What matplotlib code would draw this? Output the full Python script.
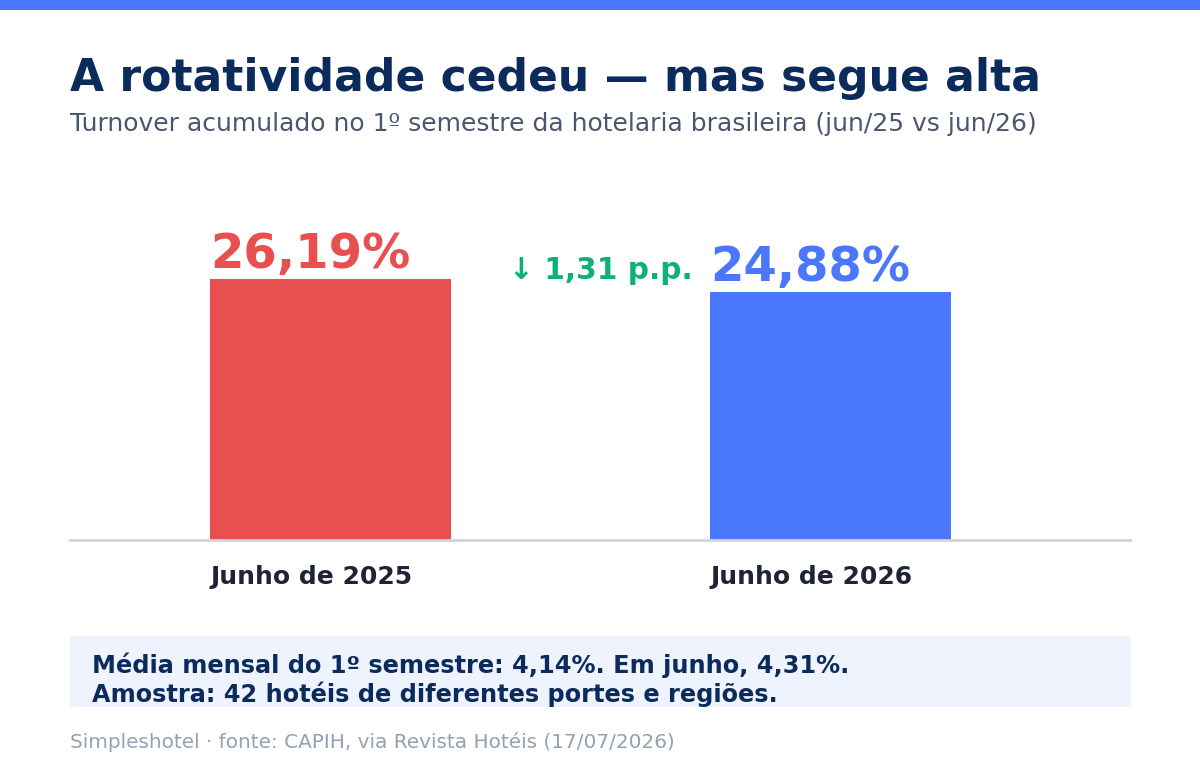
import matplotlib.pyplot as plt
from matplotlib.patches import Rectangle

# data
categories = ['Junho de 2025', 'Junho de 2026']
turnover = [26.19, 24.88]
value_labels = ['26,19%', '24,88%']
delta_label = '↓ 1,31 p.p.'
bar_colors = ['#e84f4f', '#4a77fc']

W, H = 1200, 760
fig = plt.figure(figsize=(12, 7.6), dpi=100)
fig.patch.set_facecolor('white')

def px(x, y):
    # pixel coords (top-left origin) -> figure fraction
    return x / W, 1 - y / H

# top accent bar
fig.patches.append(Rectangle((0, 1 - 10 / H), 1, 10 / H, transform=fig.transFigure,
                             facecolor='#4a77fc', edgecolor='none'))

fig.text(*px(70, 91), 'A rotatividade cedeu — mas segue alta', fontsize=31.7,
         fontweight='bold', color='#0a2b5c', ha='left', va='baseline')
fig.text(*px(70, 131), 'Turnover acumulado no 1º semestre da hotelaria brasileira (jun/25 vs jun/26)',
         fontsize=18, color='#4a5670', ha='left', va='baseline')

# axes: x 70..1130, y 200..540
ax = fig.add_axes([70 / W, 1 - 540 / H, 1060 / W, 340 / H])
x = [0, 1]
width = 0.482
rects = ax.bar(x, turnover, width, color=bar_colors, zorder=2)
ax.set_xlim(-0.521, 1.599)
ax.set_ylim(0, 34.1)
for s in ['top', 'right', 'left']:
    ax.spines[s].set_visible(False)
ax.spines['bottom'].set_color('#d0d4dc')
ax.spines['bottom'].set_linewidth(2)
ax.set_yticks([])
ax.set_xticks([])

for rect, lab, col, cat in zip(rects, value_labels, bar_colors, categories):
    ax.annotate(lab, xy=(rect.get_x(), rect.get_height()), xytext=(0, 8),
                textcoords='offset points', ha='left', va='baseline',
                fontsize=34.7, fontweight='bold', color=col, annotation_clip=False)
    ax.annotate(cat, xy=(rect.get_x(), 0), xytext=(0, -31.5),
                textcoords='offset points', ha='left', va='baseline',
                fontsize=18, fontweight='bold', color='#1e2433', annotation_clip=False)

ax.text(0.541, turnover[0], delta_label, ha='center', va='baseline', fontsize=21.3,
        fontweight='bold', color='#0db07a')

# note box
fig.patches.append(Rectangle(px(70, 707), 1061 / W, 71 / H, transform=fig.transFigure,
                             facecolor='#eef3fe', edgecolor='none'))
fig.text(*px(92, 673), 'Média mensal do 1º semestre: 4,14%. Em junho, 4,31%.',
         fontsize=17.25, fontweight='bold', color='#0a2b5c', ha='left', va='baseline')
fig.text(*px(92, 702), 'Amostra: 42 hotéis de diferentes portes e regiões.',
         fontsize=17.25, fontweight='bold', color='#0a2b5c', ha='left', va='baseline')

fig.text(*px(70, 748), 'Simpleshotel · fonte: CAPIH, via Revista Hotéis (17/07/2026)',
         fontsize=14.4, color='#94a0b4', ha='left', va='baseline')

plt.savefig('out.png', dpi=100)
